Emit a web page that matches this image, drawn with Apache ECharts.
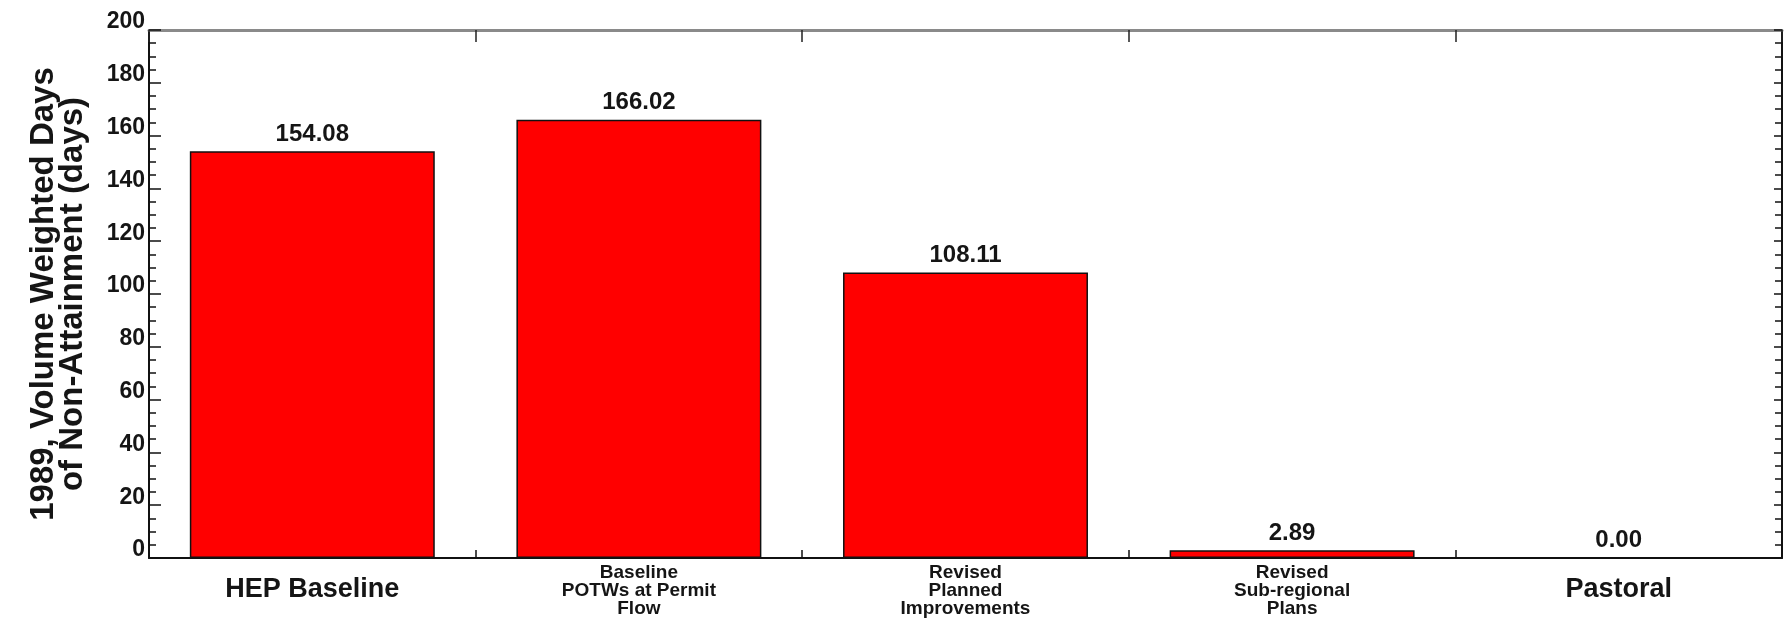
<!DOCTYPE html>
<html>
<head>
<meta charset="utf-8">
<script src="https://cdn.jsdelivr.net/npm/echarts@6/dist/echarts.min.js"></script>
<style>
html,body{margin:0;padding:0;background:#fff;}
#chart{width:1787px;height:627px;}
</style>
</head>
<body>
<div id="chart"></div>
<script>
const categories = [
  'HEP Baseline',
  'Baseline\nPOTWs at Permit\nFlow',
  'Revised\nPlanned\nImprovements',
  'Revised\nSub-regional\nPlans',
  'Pastoral'
];
const bigLabel = [true, false, false, false, true];
const values = [154.08, 166.02, 108.11, 2.89, 0.00];
const yTicks = [0, 20, 40, 60, 80, 100, 120, 140, 160, 180, 200];
const yAxisTitle = '1989, Volume Weighted Days\nof Non-Attainment (days)';

const FONT = 'Liberation Sans, Arial, sans-serif';
const TXT = '#151515';

const chart = echarts.init(document.getElementById('chart'));
chart.setOption({
  animation: false,
  backgroundColor: '#fff',
  grid: {left: 149, right: 5, top: 30, bottom: 69, containLabel: false},
  xAxis: [
    {
      type: 'category',
      data: categories,
      position: 'bottom',
      axisLine: {onZero: false, lineStyle: {color: '#111', width: 2}},
      axisTick: {show: true, inside: true, length: 8, lineStyle: {color: '#111', width: 1.5}},
      axisLabel: {
        interval: 0,
        margin: 6,
        fontFamily: FONT,
        color: TXT,
        formatter: function (v) {
          const idx = categories.indexOf(v);
          if (bigLabel[idx]) return '{big|' + v + '}';
          return v.split('\n').map(s => '{small|' + s + '}').join('\n');
        },
        rich: {
          big: {fontSize: 27, fontWeight: 'bold', lineHeight: 52, fontFamily: FONT, color: TXT},
          small: {fontSize: 19, fontWeight: 'bold', lineHeight: 18, fontFamily: FONT, color: TXT}
        }
      }
    },
    {
      type: 'category',
      data: categories,
      position: 'top',
      axisLine: {onZero: false, lineStyle: {color: '#8a8a8a', width: 3}},
      axisTick: {show: true, inside: true, length: 12, lineStyle: {color: '#222', width: 1.5}},
      axisLabel: {show: false}
    }
  ],
  yAxis: [
    {
      type: 'value',
      min: 0,
      max: 200,
      interval: 20,
      position: 'left',
      name: yAxisTitle,
      nameLocation: 'middle',
      nameRotate: 90,
      nameGap: 62,
      nameTextStyle: {fontSize: 33, fontWeight: 'bold', fontFamily: FONT, color: TXT, lineHeight: 29, align: 'center'},
      axisLine: {show: true, onZero: false, lineStyle: {color: '#111', width: 2}},
      axisTick: {show: true, inside: true, length: 12, lineStyle: {color: '#111', width: 1.5}},
      minorTick: {show: true, splitNumber: 4, length: 7, lineStyle: {color: '#111', width: 1.5}},
      splitLine: {show: false},
      axisLabel: {
        margin: 4,
        fontSize: 23,
        fontWeight: 'bold',
        fontFamily: FONT,
        color: TXT,
        verticalAlign: 'bottom',
        lineHeight: 16,
        formatter: function (v) { return yTicks.indexOf(v) >= 0 ? String(v) : ''; }
      }
    },
    {
      type: 'value',
      min: 0,
      max: 200,
      interval: 20,
      position: 'right',
      axisLine: {show: true, onZero: false, lineStyle: {color: '#111', width: 2}},
      axisTick: {show: true, inside: true, length: 8, lineStyle: {color: '#111', width: 1.5}},
      minorTick: {show: true, splitNumber: 4, length: 7, lineStyle: {color: '#111', width: 1.5}},
      splitLine: {show: false},
      axisLabel: {show: false}
    }
  ],
  series: [
    {
      type: 'bar',
      data: values,
      barWidth: '75%',
      itemStyle: {color: '#ff0000', borderColor: '#111', borderWidth: 1.5},
      label: {
        show: true,
        position: 'top',
        distance: 5,
        fontSize: 24,
        fontWeight: 'bold',
        fontFamily: FONT,
        color: TXT,
        formatter: function (p) { return p.value.toFixed(2); }
      }
    }
  ]
});
</script>
</body>
</html>
